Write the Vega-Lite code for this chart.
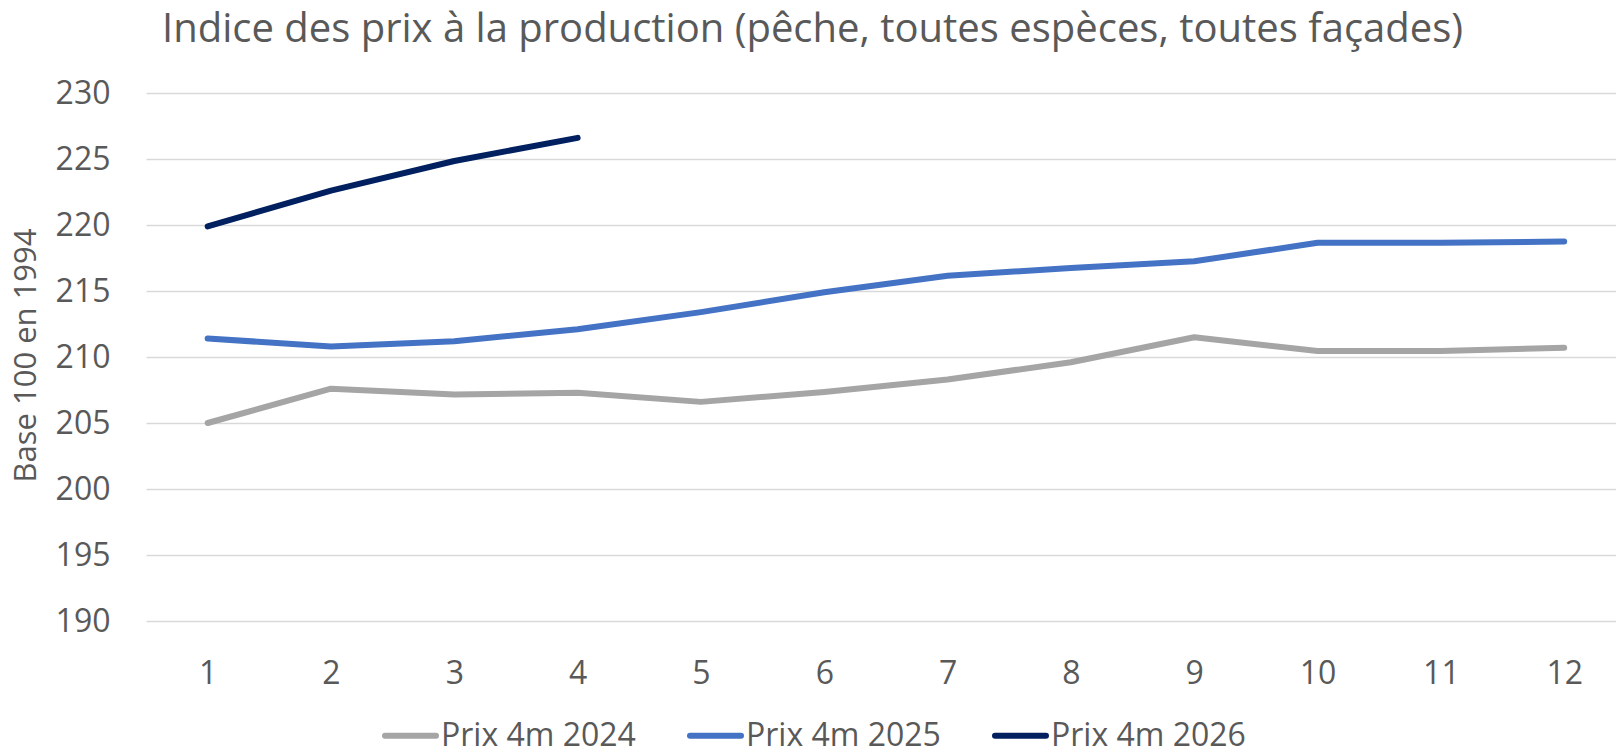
{
  "$schema": "https://vega.github.io/schema/vega-lite/v6.json",
  "autosize": "none",
  "width": 1470,
  "height": 528,
  "padding": {"left": 146, "top": 93, "right": 0, "bottom": 128},
  "background": "white",
  "config": {
    "font": "Open Sans",
    "view": {"stroke": null}
  },
  "title": {
    "text": "Indice des prix à la production (pêche, toutes espèces, toutes façades)",
    "anchor": "start",
    "frame": "group",
    "fontSize": 40,
    "fontWeight": "normal",
    "color": "#595959",
    "font": "Open Sans",
    "baseline": "alphabetic",
    "dx": 16,
    "offset": -5
  },
  "data": {
    "values": [
      {"mois": 1, "indice": 205.0, "serie": "Prix 4m 2024"},
      {"mois": 2, "indice": 207.6, "serie": "Prix 4m 2024"},
      {"mois": 3, "indice": 207.15, "serie": "Prix 4m 2024"},
      {"mois": 4, "indice": 207.3, "serie": "Prix 4m 2024"},
      {"mois": 5, "indice": 206.6, "serie": "Prix 4m 2024"},
      {"mois": 6, "indice": 207.35, "serie": "Prix 4m 2024"},
      {"mois": 7, "indice": 208.3, "serie": "Prix 4m 2024"},
      {"mois": 8, "indice": 209.6, "serie": "Prix 4m 2024"},
      {"mois": 9, "indice": 211.5, "serie": "Prix 4m 2024"},
      {"mois": 10, "indice": 210.45, "serie": "Prix 4m 2024"},
      {"mois": 11, "indice": 210.45, "serie": "Prix 4m 2024"},
      {"mois": 12, "indice": 210.7, "serie": "Prix 4m 2024"},
      {"mois": 1, "indice": 211.4, "serie": "Prix 4m 2025"},
      {"mois": 2, "indice": 210.8, "serie": "Prix 4m 2025"},
      {"mois": 3, "indice": 211.2, "serie": "Prix 4m 2025"},
      {"mois": 4, "indice": 212.1, "serie": "Prix 4m 2025"},
      {"mois": 5, "indice": 213.4, "serie": "Prix 4m 2025"},
      {"mois": 6, "indice": 214.9, "serie": "Prix 4m 2025"},
      {"mois": 7, "indice": 216.15, "serie": "Prix 4m 2025"},
      {"mois": 8, "indice": 216.75, "serie": "Prix 4m 2025"},
      {"mois": 9, "indice": 217.25, "serie": "Prix 4m 2025"},
      {"mois": 10, "indice": 218.65, "serie": "Prix 4m 2025"},
      {"mois": 11, "indice": 218.65, "serie": "Prix 4m 2025"},
      {"mois": 12, "indice": 218.75, "serie": "Prix 4m 2025"},
      {"mois": 1, "indice": 219.9, "serie": "Prix 4m 2026"},
      {"mois": 2, "indice": 222.6, "serie": "Prix 4m 2026"},
      {"mois": 3, "indice": 224.85, "serie": "Prix 4m 2026"},
      {"mois": 4, "indice": 226.6, "serie": "Prix 4m 2026"}
    ]
  },
  "mark": {"type": "line", "strokeWidth": 6, "strokeCap": "round", "strokeJoin": "round"},
  "encoding": {
    "x": {
      "field": "mois",
      "type": "quantitative",
      "scale": {"domain": [0.5, 12.42], "nice": false, "zero": false},
      "axis": {
        "values": [1, 2, 3, 4, 5, 6, 7, 8, 9, 10, 11, 12],
        "grid": false,
        "domain": false,
        "ticks": false,
        "labelFlush": false,
        "labelFontSize": 32,
        "labelColor": "#595959",
        "labelPadding": 37,
        "title": null
      }
    },
    "y": {
      "field": "indice",
      "type": "quantitative",
      "scale": {"domain": [190, 230], "nice": false, "zero": false},
      "axis": {
        "values": [190, 195, 200, 205, 210, 215, 220, 225, 230],
        "domain": false,
        "ticks": false,
        "grid": true,
        "gridColor": "#D9D9D9",
        "gridWidth": 1.5,
        "labelFontSize": 32,
        "labelColor": "#595959",
        "labelPadding": 36,
        "title": "Base 100 en 1994",
        "titleFontSize": 31,
        "titleFontWeight": "normal",
        "titleColor": "#595959",
        "titleX": -120,
        "titleY": 262,
        "titleBaseline": "middle",
        "titleAngle": -90
      }
    },
    "color": {
      "field": "serie",
      "type": "nominal",
      "scale": {
        "domain": ["Prix 4m 2024", "Prix 4m 2025", "Prix 4m 2026"],
        "range": ["#A5A5A5", "#4472C4", "#002060"]
      },
      "legend": {
        "title": null,
        "orient": "none",
        "direction": "horizontal",
        "legendX": 236,
        "legendY": 614,
        "padding": 0,
        "symbolType": "stroke",
        "symbolSize": 2601,
        "symbolStrokeWidth": 6,
        "labelFontSize": 32,
        "labelColor": "#595959",
        "labelOffset": 2,
        "columnPadding": 42,
        "labelLimit": 400,
        "encode": {"symbols": {"update": {"strokeCap": {"value": "round"}}}}
      }
    }
  }
}
